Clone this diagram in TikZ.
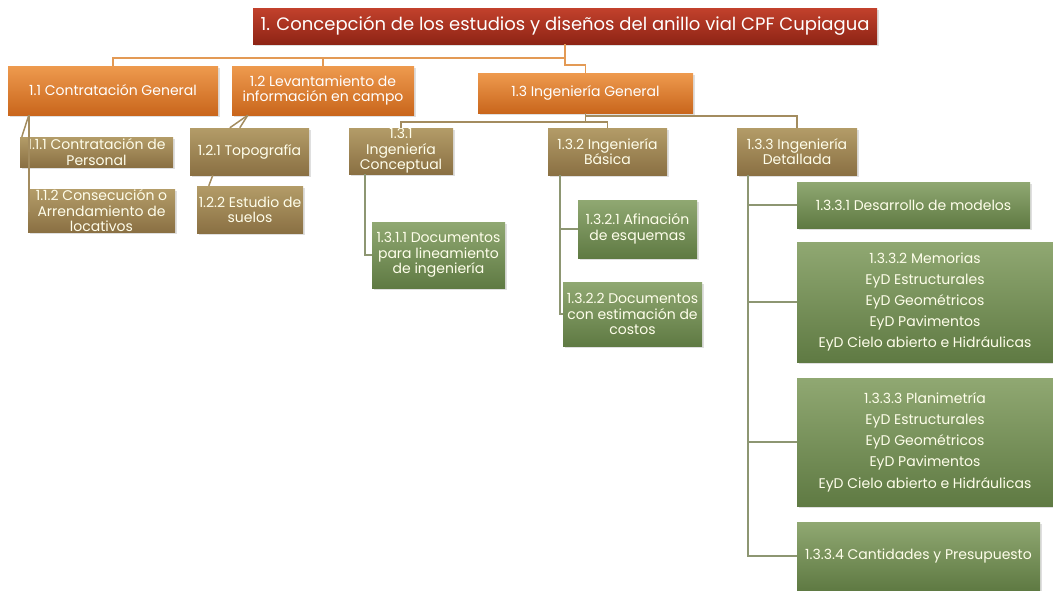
\documentclass[tikz,border=0pt]{standalone}
\usepackage{fontspec}
\setmainfont{Poppins}
\usetikzlibrary{positioning,calc,shadows}

\definecolor{redtop}{HTML}{C2412C}
\definecolor{redbot}{HTML}{8E2415}
\definecolor{orgtop}{HTML}{EE9A4E}
\definecolor{orgbot}{HTML}{C9661C}
\definecolor{brntop}{HTML}{B39C68}
\definecolor{brnbot}{HTML}{8A7043}
\definecolor{grntop}{HTML}{90A872}
\definecolor{grnbot}{HTML}{5F7A43}
\definecolor{orgline}{HTML}{E39A55}
\definecolor{brnline}{HTML}{A38C5F}
\definecolor{grnline}{HTML}{8D9672}

\tikzset{
  box/.style={draw=none, align=center, inner sep=0pt, text=white,
    font=\fontsize{14}{15.5}\selectfont,
    drop shadow={opacity=0.25, shadow xshift=1.5pt, shadow yshift=-1.5pt}},
  redbox/.style={box, top color=redtop, bottom color=redbot,
    font=\fontsize{18}{20}\selectfont},
  orgbox/.style={box, top color=orgtop, bottom color=orgbot},
  brnbox/.style={box, top color=brntop, bottom color=brnbot, text=white!92!yellow},
  grnbox/.style={box, top color=grntop, bottom color=grnbot, text=white!92!yellow},
  tallbox/.style={grnbox, font=\fontsize{14}{21.2}\selectfont},
  orgwire/.style={draw=orgline, line width=1.5pt},
  brnwire/.style={draw=brnline, line width=1.5pt},
  grnwire/.style={draw=grnline, line width=1.5pt}
}

\begin{document}
\begin{tikzpicture}[x=1pt, y=-1pt]
\useasboundingbox (0,0) rectangle (1053,590);

% Level 0
\node[redbox, minimum width=624pt, minimum height=36pt] (t) at (565,26)
  {1. Concepción de los estudios y diseños del anillo vial CPF Cupiagua};

% Level 1
\node[orgbox, minimum width=210pt, minimum height=49pt] (n11) at (113,90.5)
  {1.1 Contratación General};
\node[orgbox, minimum width=182pt, minimum height=49pt] (n12) at (323,90.5)
  {1.2 Levantamiento de\\información en campo};
\node[orgbox, minimum width=215pt, minimum height=40pt] (n13) at (585.5,93)
  {1.3 Ingeniería General};

% Level 2
\node[brnbox, minimum width=153pt, minimum height=30pt] (n111) at (96.5,152)
  {1.1.1 Contratación de\\Personal};
\node[brnbox, minimum width=147pt, minimum height=42pt] (n112) at (101.5,211)
  {1.1.2 Consecución o\\Arrendamiento de\\locativos};
\node[brnbox, minimum width=119pt, minimum height=47pt] (n121) at (249.5,151.5)
  {1.2.1 Topografía};
\node[brnbox, minimum width=106pt, minimum height=47pt] (n122) at (250,209.5)
  {1.2.2 Estudio de\\suelos};
\node[brnbox, minimum width=104pt, minimum height=46pt] (n131) at (401,151)
  {1.3.1\\Ingeniería\\Conceptual};
\node[brnbox, minimum width=119pt, minimum height=47pt] (n132) at (607.5,151.5)
  {1.3.2 Ingeniería\\Básica};
\node[brnbox, minimum width=120pt, minimum height=47pt] (n133) at (797,151.5)
  {1.3.3 Ingeniería\\Detallada};

% Level 3
\node[grnbox, minimum width=133pt, minimum height=66pt] (n1311) at (438.5,255)
  {1.3.1.1 Documentos\\para lineamiento\\de ingeniería};
\node[grnbox, minimum width=119pt, minimum height=58pt] (n1321) at (637.5,229)
  {1.3.2.1 Afinación\\de esquemas};
\node[grnbox, minimum width=139pt, minimum height=64pt] (n1322) at (632.5,314)
  {1.3.2.2 Documentos\\con estimación de\\costos};
\node[grnbox, minimum width=233pt, minimum height=46pt] (n1331) at (913.5,205)
  {1.3.3.1 Desarrollo de modelos};
\node[tallbox, minimum width=256pt, minimum height=120pt] (n1332) at (925,302)
  {1.3.3.2 Memorias\\EyD Estructurales\\EyD Geométricos\\EyD Pavimentos\\EyD Cielo abierto e Hidráulicas};
\node[tallbox, minimum width=256pt, minimum height=128pt] (n1333) at (925,442)
  {1.3.3.3 Planimetría\\EyD Estructurales\\EyD Geométricos\\EyD Pavimentos\\EyD Cielo abierto e Hidráulicas};
\node[grnbox, minimum width=243pt, minimum height=68pt] (n1334) at (918.5,556)
  {1.3.3.4 Cantidades y Presupuesto};

% Connectors from the title
\draw[orgwire] (t.south) -- ++(0,14) -| (n11.north);
\draw[orgwire] (t.south) -- ++(0,14) -| (n12.north);
\draw[orgwire] (t.south) -- ++(0,21) -| (n13.north);

% Connectors under 1.1 and 1.2
\draw[brnwire] (n11.south west) ++(21,0) |- (n112.west);
\draw[brnwire] ($(n11.south west)+(21,0)$) -- ($(n111.north west)+(2,0)$);
\draw[brnwire] ($(n12.south west)+(16,0)$) -- ($(n121.north west)+(40,0)$);
\draw[brnwire] ($(n12.south west)+(16,0)$) -- ($(n121.north west)+(50,0)$);
\draw[brnwire] ($(n121.south west)+(23,0)$) -- ($(n122.north west)+(12,0)$);

% Connectors under 1.3
\draw[brnwire] (n13.south) -- ++(0,9) -| (n131.north);
\draw[brnwire] (n13.south) -- ++(0,9) -| (n132.north);
\draw[brnwire] (n13.south) -- ++(0,3) -| (n133.north);

% Connectors to level 3
\draw[grnwire] (n131.south west) ++(16,0) |- (n1311.west);
\draw[grnwire] (n132.south west) ++(12,0) |- (n1321.west);
\draw[grnwire] (n132.south west) ++(12,0) |- (n1322.west);
\foreach \leaf in {n1331,n1332,n1333,n1334} {
  \draw[grnwire] (n133.south west) ++(11,0) |- (\leaf.west);
}

\end{tikzpicture}
\end{document}
